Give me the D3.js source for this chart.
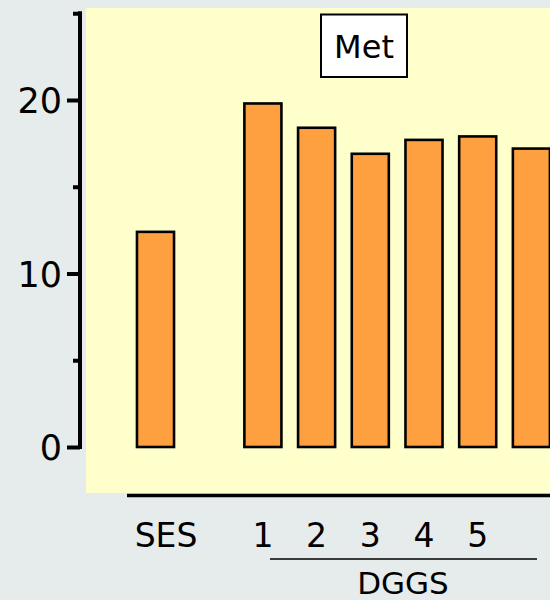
<!DOCTYPE html>
<html>
<head>
<meta charset="utf-8">
<script src="https://cdn.jsdelivr.net/npm/d3@7"></script>
<style>
  html, body { margin: 0; padding: 0; background: #e6ebeb; }
  svg { display: block; }
  text { font-family: "DejaVu Sans", sans-serif; fill: #000; }
</style>
</head>
<body>
<svg id="chart" width="550" height="600"></svg>
<script>
// ---- data ----
const categories = ["SES", "1", "2", "3", "4", "5", "6"];
const values = [12.4, 19.8, 18.4, 16.9, 17.7, 17.9, 17.2];
const xTickLabels = ["SES", "1", "2", "3", "4", "5", ""];
const slots = ["SES", "gap", "1", "2", "3", "4", "5", "6"];
const yMajorTicks = [0, 10, 20];
const yMinorTicks = [5, 15, 25];
const panelTitle = "Met";
const groupTitle = "DGGS";

// ---- layout ----
const W = 550, H = 600;
const svg = d3.select("#chart");

const y = d3.scaleLinear().domain([0, 25]).range([447, 13.25]);
const x = d3.scaleBand().domain(slots).range([128.65, 558.25])
  .paddingInner(0.31).paddingOuter(0.155);

// yellow panel
svg.append("rect").attr("x", 86).attr("y", 8).attr("width", W - 86).attr("height", 485)
  .attr("fill", "#ffffcc");

// bars
svg.append("g").selectAll("rect").data(categories).join("rect")
  .attr("x", d => x(d))
  .attr("y", (d, i) => y(values[i]))
  .attr("width", x.bandwidth())
  .attr("height", (d, i) => y(0) - y(values[i]))
  .attr("fill", "#ffa040")
  .attr("stroke", "#000")
  .attr("stroke-width", 2.6);

// y axis
const yAxisMajor = d3.axisLeft(y).tickValues(yMajorTicks).tickSize(13).tickPadding(5).tickFormat(d3.format("d"));
const gy = svg.append("g").attr("transform", "translate(80,0)").call(yAxisMajor);
gy.select(".domain").remove();
gy.selectAll(".tick line").attr("stroke", "#000").attr("stroke-width", 4);
gy.selectAll(".tick text").attr("font-size", 35).attr("font-family", "DejaVu Sans").attr("dy", "0.36em");

const yAxisMinor = d3.axisLeft(y).tickValues(yMinorTicks).tickSize(7).tickFormat("");
const gy2 = svg.append("g").attr("transform", "translate(80,0)").call(yAxisMinor);
gy2.select(".domain").remove();
gy2.selectAll(".tick line").attr("stroke", "#000").attr("stroke-width", 4);

svg.append("line").attr("x1", 80).attr("x2", 80).attr("y1", y(25) - 2).attr("y2", y(0) + 2)
  .attr("stroke", "#000").attr("stroke-width", 4);

// x axis line
svg.append("line").attr("x1", 127).attr("x2", W).attr("y1", 495.5).attr("y2", 495.5)
  .attr("stroke", "#000").attr("stroke-width", 3.6);

// x tick labels
const xAxis = d3.axisBottom(x).tickValues(categories).tickSize(0).tickPadding(0)
  .tickFormat((d, i) => xTickLabels[i]);
const gx = svg.append("g").attr("transform", "translate(0,547)").call(xAxis);
gx.select(".domain").remove();
gx.selectAll(".tick text")
  .attr("font-size", 33).attr("font-family", "DejaVu Sans")
  .attr("y", 0).attr("dy", 0)
  .attr("dx", d => d === "SES" ? 10.5 : 0);

// DGGS group line and label
svg.append("line").attr("x1", 270).attr("x2", 537).attr("y1", 559).attr("y2", 559)
  .attr("stroke", "#000").attr("stroke-width", 1.6);
svg.append("text").attr("x", 403).attr("y", 594).attr("text-anchor", "middle")
  .attr("font-size", 31).text(groupTitle);

// Met title box
svg.append("rect").attr("x", 321).attr("y", 14.5).attr("width", 86).attr("height", 62.5)
  .attr("fill", "#fff").attr("stroke", "#000").attr("stroke-width", 2);
svg.append("text").attr("x", 364).attr("y", 58).attr("text-anchor", "middle")
  .attr("font-size", 32).text(panelTitle);
</script>
</body>
</html>
